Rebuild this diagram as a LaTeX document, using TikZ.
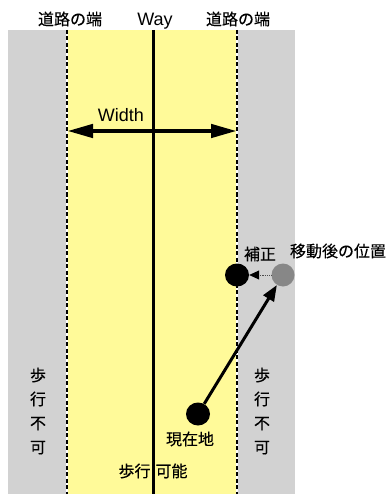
\documentclass[tikz,border=0pt]{standalone}
\usepackage{fontspec}
\setmainfont{Noto Sans CJK JP}[RawFeature={embolden=0.3}]
\newfontfamily\latinfont{Liberation Sans}
\usetikzlibrary{arrows.meta,shapes.geometric}
\begin{document}
\begin{tikzpicture}[x=1pt,y=-1pt,
  lbl/.style={font=\fontsize{16}{17}\selectfont,inner sep=0pt},
  latlbl/.style={font=\latinfont\fontsize{18}{20}\selectfont,inner sep=0pt},
  edgeline/.style={line width=2.5pt,white},
  edgedash/.style={line width=2.5pt,black,dash pattern=on 4pt off 2.5pt},
  dot/.style={ellipse,minimum width=24pt,minimum height=23pt,inner sep=0pt,fill=black}]
\useasboundingbox (0,0) rectangle (390,494);
\fill[white] (0,0) rectangle (390,494);
\fill[gray!35] (8,30) rectangle (295,494);
\fill[yellow!40] (67,30) rectangle (237,494);
% road edges
\coordinate (lt) at (67,30); \coordinate (lb) at (67,494);
\coordinate (rt) at (237,30); \coordinate (rb) at (237,494);
\draw[edgeline] (lt) -- (lb); \draw[edgedash] (lt) -- (lb);
\draw[edgeline] (rt) -- (rb); \draw[edgedash] (rt) -- (rb);
% way line
\coordinate (wt) at (153,30); \coordinate (wb) at (153,494);
\draw[line width=3pt] (wt) -- (wb);
% labels
\node[lbl] (el) at (70,19) {道路の端};
\node[lbl] (er) at (238,19) {道路の端};
\node[latlbl] (way) at (155,21) {Way};
% width arrow
\coordinate (wl) at (67,131); \coordinate (wr) at (237,131);
\draw[line width=4.5pt,{Triangle[length=26pt,width=13pt]}-{Triangle[length=26pt,width=13pt]}] (wl) -- (wr);
\node[latlbl] (wd) at (121,115) {Width};
% dots
\node[dot] (cur) at (198,414) {};
\node[dot] (cor) at (237,275) {};
\node[dot,fill=black!47,minimum width=23pt,minimum height=23pt] (moved) at (283,275) {};
\draw[line width=3pt,-{Triangle[length=16pt,width=12pt]}] (cur) -- (moved);
\draw[densely dotted,line width=0.8pt,black!70,-{Triangle[length=10pt,width=9pt,color=black]}] (moved) -- (cor);
\node[lbl] (hosei) at (260,254) {補正};
\node[lbl] (idou) at (338,251) {移動後の位置};
\node[lbl] (genzai) at (190,439) {現在地};
\node[lbl] (kanou) at (153,471) {歩行\hspace{5pt}可能};
\node[lbl,align=center,font=\fontsize{16}{24}\selectfont] (fl) at (38,411) {歩\\行\\不\\可};
\node[lbl,align=center,font=\fontsize{16}{24}\selectfont] (fr) at (262,411) {歩\\行\\不\\可};
\end{tikzpicture}
\end{document}
